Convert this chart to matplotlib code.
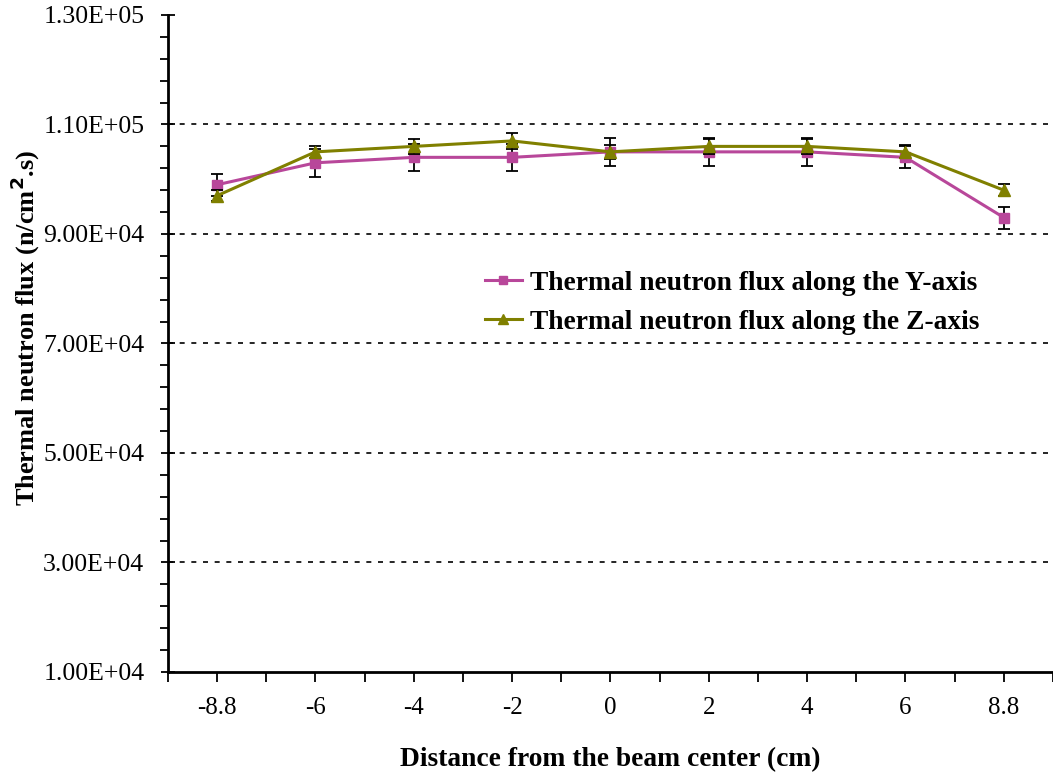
import numpy as np
import matplotlib.pyplot as plt
from matplotlib.lines import Line2D
from matplotlib.ticker import FixedLocator, MultipleLocator, FuncFormatter

# ------------------------------------------------------------
# DATA
# ------------------------------------------------------------

positions = ["-8.8", "-6", "-4", "-2", "0", "2", "4", "6", "8.8"]

flux_y = [99000, 103000, 104000, 104000, 105000, 105000, 105000, 104000, 93000]
err_y = [2000, 2500, 2500, 2500, 2500, 2500, 2500, 2000, 2000]

flux_z = [97000, 105000, 106000, 107000, 105000, 106000, 106000, 105000, 98000]
err_z = [1000, 1100, 1300, 1400, 1300, 1300, 1300, 1200, 1100]

label_y = "Thermal neutron flux along the Y-axis"
label_z = "Thermal neutron flux along the Z-axis"

# ------------------------------------------------------------
# PLOT
# ------------------------------------------------------------

plt.rcParams['font.family'] = ['Liberation Serif', 'DejaVu Serif']

fig = plt.figure(figsize=(10.53, 7.73), dpi=100)
ax = fig.add_axes([0.1595, 0.1307, 0.8405, 0.8499])

x = np.arange(len(positions))

pink = "#B8479A"
olive = "#808000"

ax.errorbar(x, flux_y, yerr=err_y, color=pink, lw=2.2, marker="s", ms=7,
            ecolor="black", elinewidth=1.3, capsize=4, capthick=1.3, zorder=3)
ax.errorbar(x, flux_z, yerr=err_z, color=olive, lw=2.2, marker="^", ms=8,
            ecolor="black", elinewidth=1.3, capsize=4, capthick=1.3, zorder=4)

ax.set_xlim(-0.5, len(positions) - 0.5)
ax.set_ylim(10000, 130000)

ax.set_xticks(x)
ax.set_xticklabels(positions)
ax.xaxis.set_minor_locator(MultipleLocator(0.5))
ax.tick_params(axis="x", which="both", direction="out", length=7, width=1.3,
               labelsize=18, pad=11)

ax.yaxis.set_major_locator(FixedLocator(np.arange(10000, 130001, 20000)))
ax.yaxis.set_minor_locator(FixedLocator(np.arange(10000, 130001, 4000)))
ax.yaxis.set_major_formatter(FuncFormatter(lambda v, p: f"{v:.2E}"))
ax.tick_params(axis="y", which="major", direction="inout", length=10, width=1.3,
               labelsize=18.5, pad=12)
ax.tick_params(axis="y", which="minor", direction="out", length=6, width=1.3)

# dashed grid on the inner major levels only
for v in np.arange(30000, 110001, 20000):
    ax.axhline(v, color="black", lw=1.2, ls=(0, (3, 4)), zorder=1)

ax.spines["top"].set_visible(False)
ax.spines["right"].set_visible(False)
ax.spines["left"].set_linewidth(2)
ax.spines["bottom"].set_linewidth(2)

ax.set_xlabel("Distance from the beam center (cm)", fontsize=19.8,
              fontweight="bold", labelpad=20)
ax.set_ylabel("Thermal neutron flux (n/cm$^{\\mathbf{2}}$.s)", fontsize=19,
              fontweight="bold")
ax.yaxis.set_label_coords(-0.142, 0.524)

handles = [
    Line2D([], [], color=pink, lw=2.2, marker="s", ms=6),
    Line2D([], [], color=olive, lw=2.2, marker="^", ms=7),
]
ax.legend(handles, [label_y, label_z], loc="upper left",
          bbox_to_anchor=(0.437, 0.682), bbox_transform=fig.transFigure,
          frameon=False, prop={"size": 19.8, "weight": "bold"},
          handlelength=1.35, handletextpad=0.3, labelspacing=0.5)

fig.savefig("out.png", dpi=100)
